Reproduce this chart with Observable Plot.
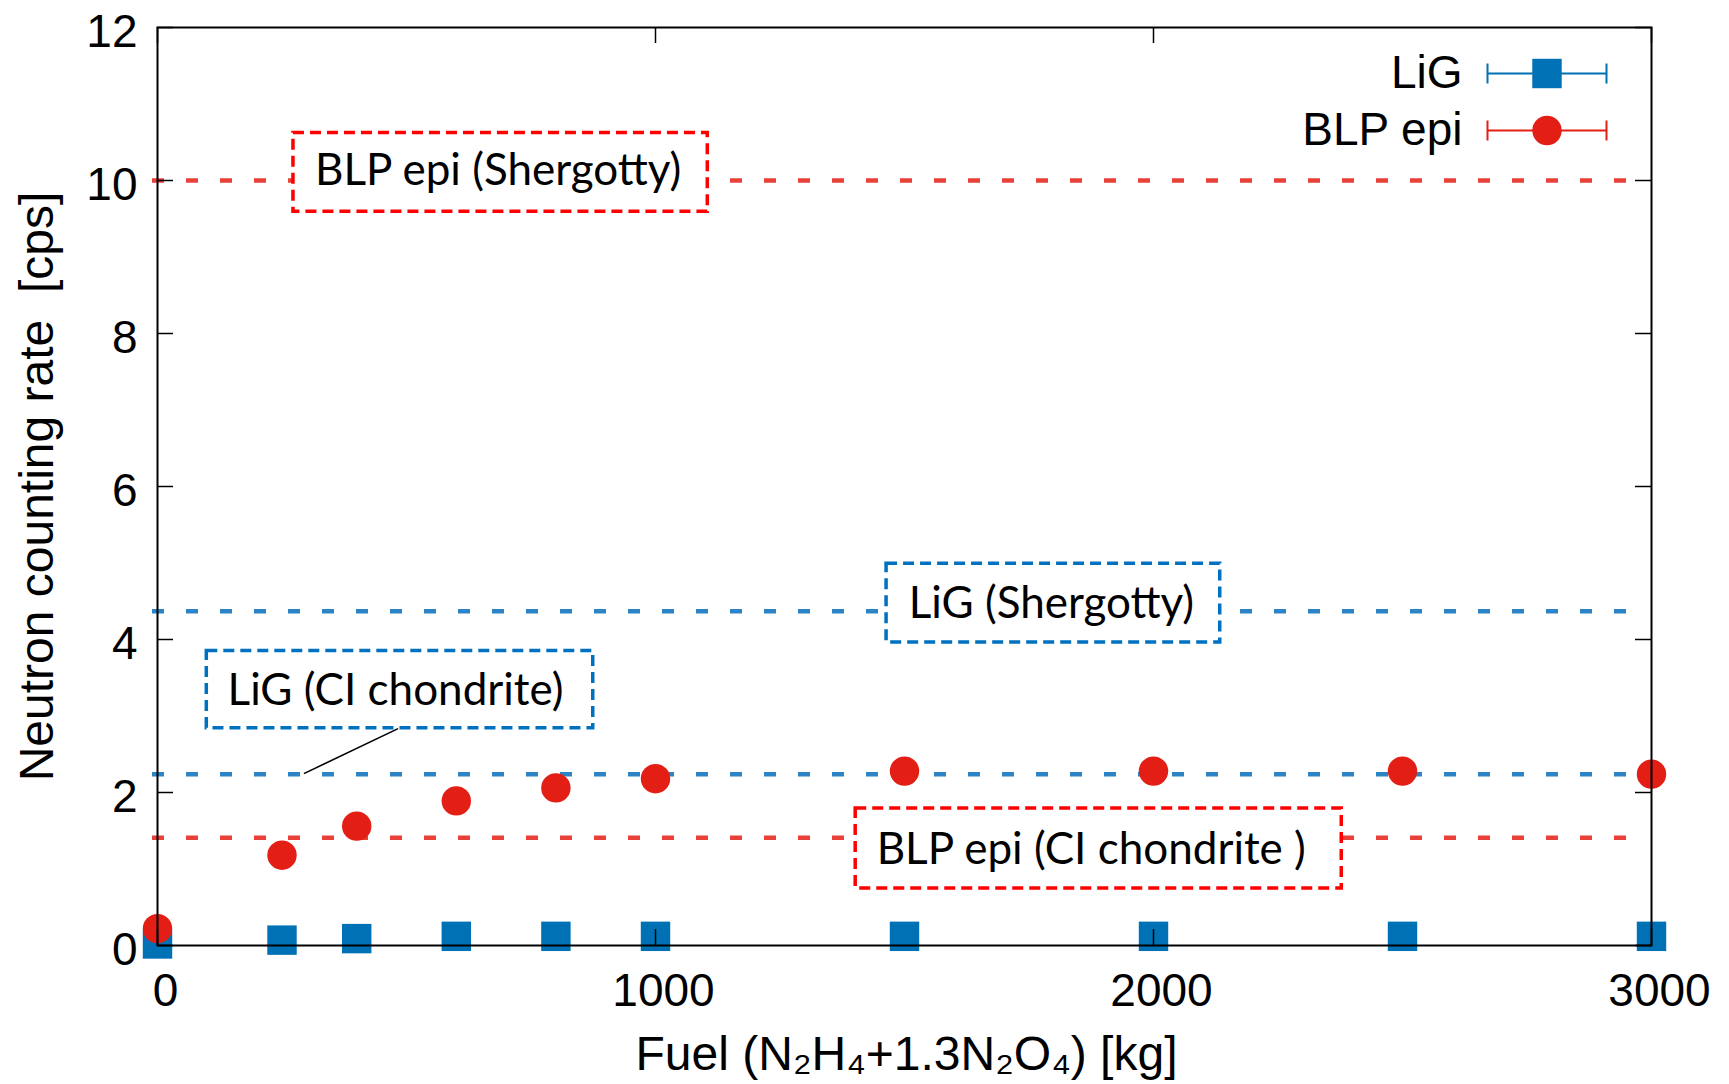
<!DOCTYPE html>
<html>
<head>
<meta charset="utf-8">
<script src="https://cdn.jsdelivr.net/npm/d3@7"></script>
<script src="https://cdn.jsdelivr.net/npm/@observablehq/plot@0.6"></script>
<style>
html, body { margin: 0; padding: 0; background: #ffffff; }
#chart { width: 1729px; height: 1084px; }
</style>
</head>
<body>
<div id="chart"></div>
<script>
// ---- data ----
const fuel    = [0, 250, 400, 600, 800, 1000, 1500, 2000, 2500, 3000];   // kg
const ligRate = [0.02, 0.07, 0.09, 0.12, 0.12, 0.12, 0.12, 0.12, 0.12, 0.12]; // cps
const blpRate = [0.22, 1.18, 1.56, 1.89, 2.06, 2.18, 2.28, 2.28, 2.28, 2.24]; // cps

const seriesNames = ["LiG", "BLP epi"];

// reference levels (dashed lines) and their labels
const refNames  = ["BLP epi (Shergotty)", "LiG (Shergotty)", "LiG (CI chondrite)", "BLP epi (CI chondrite )"];
const refSeries = ["BLP epi", "LiG", "LiG", "BLP epi"];
const refRate   = [10.0, 4.37, 2.24, 1.41];

// label boxes, in data units (fuel, cps)
const boxFuelFrom = [273, 1464, 99, 1402];
const boxFuelTo   = [1105, 2134, 875, 2378];
const boxRateFrom = [9.59, 3.96, 2.84, 0.745];
const boxRateTo   = [10.62, 4.99, 3.85, 1.79];
const labelFuel   = [684, 1795, 478, 1875];
const labelRate   = [10.13, 4.46, 3.33, 1.254];

// leader line from "LiG (CI chondrite)" box to its level
const leaderFuel = [483, 294];
const leaderRate = [2.835, 2.247];

const xTicks = [0, 1000, 2000, 3000];
const yTicks = [0, 2, 4, 6, 8, 10, 12];
const xTitle = "Fuel (N\u2082H\u2084+1.3N\u2082O\u2084) [kg]";
const yTitle = "Neutron counting rate\u00a0 [cps]";

// ---- styling ----
const W = 1729, H = 1084;
const mL = 157, mR = 78, mT = 27, mB = 139;
const innerW = W - mL - mR, innerH = H - mT - mB;
const pointColor = {"LiG": "#0071b4", "BLP epi": "#e31e14"};
const lineColor  = {"LiG": "#2c84c4", "BLP epi": "#e9403a"};
const boxColor   = {"LiG": "#0070c0", "BLP epi": "#ff0000"};

const points = fuel.map((f, i) => ({fuel: f, lig: ligRate[i], blp: blpRate[i]}));
const refs = refNames.map((name, i) => ({
  name, series: refSeries[i], rate: refRate[i],
  x1: boxFuelFrom[i], x2: boxFuelTo[i], y1: boxRateFrom[i], y2: boxRateTo[i],
  lx: labelFuel[i], ly: labelRate[i]
}));
const leader = [{x1: leaderFuel[0], y1: leaderRate[0], x2: leaderFuel[1], y2: leaderRate[1]}];

const errBarSymbol = {
  draw(ctx) {
    const h = 59.5, c = 10;
    ctx.moveTo(-h, 0); ctx.lineTo(h, 0);
    ctx.moveTo(-h, -c); ctx.lineTo(-h, c);
    ctx.moveTo(h, -c); ctx.lineTo(h, c);
  }
};

const legendMarks = seriesNames.map((name, i) => {
  const dy = i === 0 ? 46 : 103;
  return [
    Plot.text([name], {frameAnchor: "top-right", dx: -189, dy, text: d => d, textAnchor: "end", lineAnchor: "middle", fontSize: 46}),
    Plot.dot([name], {frameAnchor: "top-right", dx: -104.5, dy, symbol: errBarSymbol, r: 5, fill: "none", stroke: pointColor[name], strokeWidth: 2}),
    Plot.dot([name], {frameAnchor: "top-right", dx: -104.5, dy, symbol: name === "LiG" ? "square" : "circle",
      r: name === "LiG" ? 16.6 : 14.7, fill: pointColor[name], stroke: "none"})
  ];
});

const chart = Plot.plot({
  width: W, height: H,
  marginLeft: mL, marginRight: mR, marginTop: mT, marginBottom: mB,
  x: {domain: [0, 3000]},
  y: {domain: [0, 12]},
  style: {fontFamily: "'Liberation Sans', Arial, sans-serif", fontSize: "46px", color: "black", background: "white"},
  marks: [
    Plot.ruleY(refs, {y: "rate", stroke: d => lineColor[d.series], strokeWidth: 4.5, strokeDasharray: "12,22", insetLeft: -5, insetRight: 10}),
    Plot.link(leader, {x1: "x1", y1: "y1", x2: "x2", y2: "y2", stroke: "black", strokeWidth: 1.6}),
    Plot.rect(refs, {x1: "x1", x2: "x2", y1: "y1", y2: "y2", fill: "white", stroke: d => boxColor[d.series], strokeWidth: 3.5, strokeDasharray: "11,6"}),
    Plot.text(refs, {x: "lx", y: "ly", text: "name", fontFamily: "Lato", fontSize: 44, fill: "black"}),
    Plot.dot(points, {x: "fuel", y: "lig", symbol: "square", r: 16.6, fill: pointColor["LiG"], stroke: "none"}),
    Plot.dot(points, {x: "fuel", y: "blp", symbol: "circle", r: 14.7, fill: pointColor["BLP epi"], stroke: "none"}),
    Plot.frame({stroke: "black", strokeWidth: 2}),
    Plot.ruleX(xTicks, {x: d => d, insetTop: innerH - 16, stroke: "black", strokeWidth: 1.5}),
    Plot.ruleX(xTicks, {x: d => d, insetBottom: innerH - 16, stroke: "black", strokeWidth: 1.5}),
    Plot.ruleY(yTicks, {y: d => d, insetRight: innerW - 16, stroke: "black", strokeWidth: 1.5}),
    Plot.ruleY(yTicks, {y: d => d, insetLeft: innerW - 16, stroke: "black", strokeWidth: 1.5}),
    Plot.axisX(xTicks, {tickSize: 0, tickPadding: 28, tickFormat: d => String(d), dx: 8, label: null}),
    Plot.axisY(yTicks, {tickSize: 0, tickPadding: 20, tickFormat: d => String(d), dy: 4.5, label: null}),
    Plot.text([xTitle], {frameAnchor: "bottom", dy: 109, dx: 2, text: d => d, textAnchor: "middle", lineAnchor: "middle", fontSize: 48}),
    Plot.text([yTitle], {frameAnchor: "left", dx: -120, rotate: -90, text: d => d, textAnchor: "middle", lineAnchor: "middle", fontSize: 48}),
    legendMarks
  ]
});
document.getElementById("chart").appendChild(chart);
</script>
</body>
</html>
